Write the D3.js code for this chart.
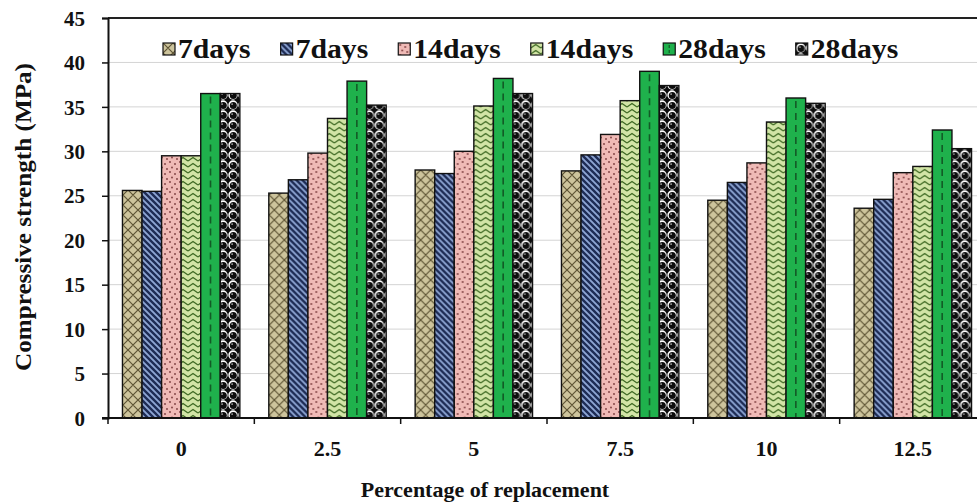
<!DOCTYPE html>
<html>
<head>
<meta charset="utf-8">
<script src="https://cdn.jsdelivr.net/npm/d3@7/dist/d3.min.js"></script>
<style>
  html, body { margin: 0; padding: 0; background: #fff; }
  svg { display: block; }
  text { font-family: "Liberation Serif", "Times New Roman", serif; font-weight: bold; fill: #111; }
</style>
</head>
<body>
<svg id="chart" width="977" height="504"></svg>
<script>
// Replacement levels (%) on the x axis
const categories = ["0", "2.5", "5", "7.5", "10", "12.5"];

// Series keys and their legend labels
const seriesKeys = ["d7a", "d7b", "d14a", "d14b", "d28a", "d28b"];
const seriesLabels = ["7days", "7days", "14days", "14days", "28days", "28days"];

// Compressive strength (MPa) per series, one value per replacement level
const d7a  = [25.6, 25.3, 27.9, 27.8, 24.5, 23.6];
const d7b  = [25.5, 26.8, 27.5, 29.6, 26.5, 24.6];
const d14a = [29.5, 29.8, 30.0, 31.9, 28.7, 27.6];
const d14b = [29.5, 33.7, 35.1, 35.7, 33.3, 28.3];
const d28a = [36.5, 37.9, 38.2, 39.0, 36.0, 32.4];
const d28b = [36.5, 35.2, 36.5, 37.4, 35.4, 30.3];

const yTicks = [0, 5, 10, 15, 20, 25, 30, 35, 40, 45];

const seriesValues = { d7a, d7b, d14a, d14b, d28a, d28b };

const svg = d3.select("#chart");
const plot = { left: 108, top: 18, right: 986, bottom: 418 };

// ---------- fill patterns ----------
const defs = svg.append("defs");

// tan crosshatch
{
  const p = defs.append("pattern").attr("id", "p-d7a").attr("patternUnits", "userSpaceOnUse")
    .attr("width", 10).attr("height", 10);
  p.append("rect").attr("width", 10).attr("height", 10).attr("fill", "#cdc49c");
  p.append("path").attr("d", "M0,0L10,10M10,0L0,10M-5,5L5,15M5,-5L15,5M5,15L15,5M-5,5L5,-5")
    .attr("stroke", "#5e5434").attr("stroke-width", 1.2).attr("fill", "none");
}
// blue diagonal stripes
{
  const p = defs.append("pattern").attr("id", "p-d7b").attr("patternUnits", "userSpaceOnUse")
    .attr("width", 6).attr("height", 6);
  p.append("rect").attr("width", 6).attr("height", 6).attr("fill", "#8ea6d4");
  p.append("path").attr("d", "M-1,-1L7,7M-4,2L2,8M4,-2L8,2")
    .attr("stroke", "#1e2c55").attr("stroke-width", 2.4).attr("fill", "none");
}
// pink with scattered dots
{
  const p = defs.append("pattern").attr("id", "p-d14a").attr("patternUnits", "userSpaceOnUse")
    .attr("width", 10).attr("height", 10);
  p.append("rect").attr("width", 10).attr("height", 10).attr("fill", "#efbab6");
  [[2, 2], [7, 4], [4, 7.5], [9, 9]].forEach(([cx, cy]) =>
    p.append("circle").attr("cx", cx).attr("cy", cy).attr("r", 0.9).attr("fill", "#7a3a3c"));
}
// light green with chevron zigzag
{
  const p = defs.append("pattern").attr("id", "p-d14b").attr("patternUnits", "userSpaceOnUse")
    .attr("width", 10).attr("height", 6);
  p.append("rect").attr("width", 10).attr("height", 6).attr("fill", "#d2e4a6");
  p.append("path").attr("d", "M0,5L5,1.5L10,5")
    .attr("stroke", "#3f6a24").attr("stroke-width", 1.3).attr("fill", "none");
}
// solid green (dashed centre line drawn per bar below)
{
  const p = defs.append("pattern").attr("id", "p-d28a").attr("patternUnits", "userSpaceOnUse")
    .attr("width", 10).attr("height", 10);
  p.append("rect").attr("width", 10).attr("height", 10).attr("fill", "#1fb14c");
}
// black and white balls
{
  const p = defs.append("pattern").attr("id", "p-d28b").attr("patternUnits", "userSpaceOnUse")
    .attr("width", 10).attr("height", 10);
  p.append("rect").attr("width", 10).attr("height", 10).attr("fill", "#0d0d0d");
  p.append("circle").attr("cx", 5).attr("cy", 5).attr("r", 4.7).attr("fill", "#fff");
  p.append("circle").attr("cx", 5.3).attr("cy", 5.5).attr("r", 3.5).attr("fill", "#0d0d0d");
  p.append("circle").attr("cx", 4.1).attr("cy", 4.1).attr("r", 0.9).attr("fill", "#aaa");
}

// ---------- scales ----------
const x0 = d3.scaleBand().domain(categories).range([plot.left, plot.right]).padding(0);
const x1 = d3.scaleBand().domain(seriesKeys).range([0, x0.bandwidth()])
  .paddingInner(0).paddingOuter(0.74);
const y = d3.scaleLinear().domain([0, 45]).range([plot.bottom, plot.top]);

// ---------- gridlines ----------
svg.append("g").selectAll("line").data(yTicks.filter(t => t > 0 && t < 45)).join("line")
  .attr("x1", plot.left).attr("x2", 977)
  .attr("y1", d => y(d)).attr("y2", d => y(d))
  .attr("stroke", "#d4d4d4").attr("stroke-width", 1);

// top frame line
svg.append("line").attr("x1", plot.left).attr("x2", 977)
  .attr("y1", y(45)).attr("y2", y(45)).attr("stroke", "#222").attr("stroke-width", 2);

// ---------- bars ----------
const groups = svg.append("g").selectAll("g").data(categories).join("g")
  .attr("transform", c => `translate(${x0(c)},0)`);

groups.each(function (c, ci) {
  const g = d3.select(this);
  seriesKeys.forEach(k => {
    const v = seriesValues[k][ci];
    const bx = x1(k), bw = x1.bandwidth();
    g.append("rect")
      .attr("x", bx).attr("y", y(v))
      .attr("width", bw).attr("height", y(0) - y(v))
      .attr("fill", `url(#p-${k})`)
      .attr("stroke", "#111").attr("stroke-width", 1.4);
    if (k === "d28a") {
      g.append("line")
        .attr("x1", bx + bw / 2).attr("x2", bx + bw / 2)
        .attr("y1", y(v) + 3).attr("y2", y(0))
        .attr("stroke", "#135a26").attr("stroke-width", 1.6)
        .attr("stroke-dasharray", "7,5");
    }
  });
});

// ---------- axes ----------
const yAxis = svg.append("g").attr("transform", `translate(${plot.left},0)`)
  .call(d3.axisLeft(y).tickValues(yTicks).tickSize(6).tickPadding(17));
yAxis.select(".domain").attr("stroke", "#111").attr("stroke-width", 2);
yAxis.selectAll(".tick line").attr("stroke", "#111").attr("stroke-width", 1.5);
yAxis.selectAll(".tick text").style("font-size", "21px").attr("dy", "0.34em");

// x axis line and boundary ticks
svg.append("line").attr("x1", plot.left - 6).attr("x2", 977)
  .attr("y1", y(0)).attr("y2", y(0)).attr("stroke", "#111").attr("stroke-width", 2);
svg.append("g").selectAll("line").data(categories.concat(["end"])).join("line")
  .attr("x1", (c, i) => i < categories.length ? x0(c) : plot.right)
  .attr("x2", (c, i) => i < categories.length ? x0(c) : plot.right)
  .attr("y1", y(0)).attr("y2", y(0) + 6)
  .attr("stroke", "#111").attr("stroke-width", 1.5);

const xAxis = svg.append("g").attr("transform", `translate(0,${y(0)})`)
  .call(d3.axisBottom(x0).tickSize(0).tickPadding(22));
xAxis.select(".domain").remove();
xAxis.selectAll(".tick text").style("font-size", "22px");

// ---------- axis titles ----------
svg.append("text")
  .attr("x", 485).attr("y", 497)
  .attr("text-anchor", "middle")
  .style("font-size", "22px")
  .text("Percentage of replacement");

svg.append("text")
  .attr("transform", `translate(31,217) rotate(-90)`)
  .attr("text-anchor", "middle")
  .attr("textLength", 308).attr("lengthAdjust", "spacingAndGlyphs")
  .style("font-size", "23px")
  .text("Compressive strength (MPa)");

// ---------- legend ----------
const legend = svg.append("g").attr("transform", "translate(163,43)");
let lx = 0;
seriesKeys.forEach((k, i) => {
  const item = legend.append("g").attr("transform", `translate(${lx},0)`);
  item.append("rect").attr("width", 12).attr("height", 12)
    .attr("fill", `url(#p-${k})`).attr("stroke", "#111").attr("stroke-width", 1.2);
  if (k === "d28a") {
    item.append("line").attr("x1", 6).attr("x2", 6).attr("y1", 2).attr("y2", 10)
      .attr("stroke", "#135a26").attr("stroke-width", 1.2).attr("stroke-dasharray", "3,2");
  }
  const t = item.append("text").attr("x", 15).attr("y", 15)
    .style("font-size", "27px").text(seriesLabels[i]);
  const w = t.node().getComputedTextLength() * 1.1;
  t.attr("textLength", w).attr("lengthAdjust", "spacingAndGlyphs");
  lx += 15 + w + 30;
});
</script>
</body>
</html>
